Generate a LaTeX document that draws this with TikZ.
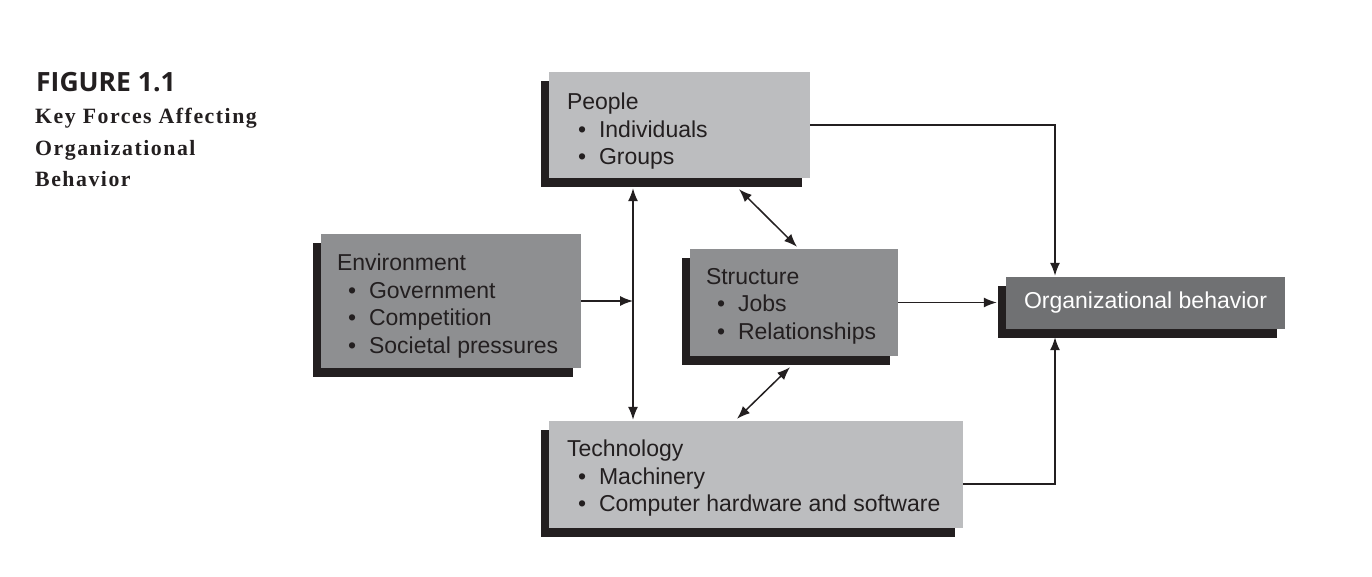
\documentclass[tikz,border=0pt]{standalone}
\usepackage{fontspec}
\setmainfont{Liberation Sans}
\newfontfamily\figfont{Open Sans}
\newfontfamily\capfont[LetterSpace=7]{Liberation Serif}
\usetikzlibrary{shadows,arrows.meta}
\definecolor{lightbox}{RGB}{188,189,191}
\definecolor{midbox}{RGB}{142,143,145}
\definecolor{darkbox}{RGB}{112,113,115}
\definecolor{ink}{RGB}{35,31,32}
\newcommand\itm[1]{\hspace*{11pt}\textbullet\hspace{13pt}#1}
\tikzset{
  forcebox/.style={draw=none, inner sep=0pt,
    drop shadow={shadow xshift=-8pt, shadow yshift=-9pt, fill=ink, opacity=1}},
  boxtext/.style={anchor=north west, inner sep=0pt, align=left, text=ink,
    font=\fontsize{23}{27.5}\selectfont},
  captext/.style={anchor=base west, inner sep=0pt, text=ink,
    font=\capfont\bfseries\fontsize{21.8}{31.5}\selectfont},
  arr/.style={draw=ink, line width=1.5pt, -{Latex[length=13pt,width=10pt]}},
  arrtwo/.style={draw=ink, line width=1.5pt, {Latex[length=13pt,width=10pt]}-{Latex[length=13pt,width=10pt]}}
}
\begin{document}
\begin{tikzpicture}[x=1pt,y=-1pt]
\useasboundingbox[fill=white] (0,0) rectangle (1372,577);
% caption
\node[anchor=base west, inner sep=0pt, text=ink, font=\figfont\bfseries\fontsize{26.5}{30}\selectfont] (fig) at (36,92) {FIGURE 1.1};
\node[captext] (cap1) at (35,124) {Key Forces Affecting};
\node[captext] (cap2) at (35,156) {Organizational};
\node[captext] (cap3) at (35,187) {Behavior};
% boxes
\node[forcebox, fill=lightbox, minimum width=261pt, minimum height=106pt] (people) at (679.5,125) {};
\node[boxtext] (peopletext) at ([shift={(18pt,-21pt)}]people.north west)
  {People\\\itm{Individuals}\\\itm{Groups}};
\node[forcebox, fill=midbox, minimum width=260pt, minimum height=134pt] (env) at (451,301) {};
\node[boxtext] (envtext) at ([shift={(16pt,-20pt)}]env.north west)
  {Environment\\\itm{Government}\\\itm{Competition}\\\itm{Societal pressures}};
\node[forcebox, fill=midbox, minimum width=208pt, minimum height=107pt] (struct) at (794,302.5) {};
\node[boxtext] (structtext) at ([shift={(16pt,-19pt)}]struct.north west)
  {Structure\\\itm{Jobs}\\\itm{Relationships}};
\node[forcebox, fill=lightbox, minimum width=414pt, minimum height=107pt] (tech) at (756,474.5) {};
\node[boxtext] (techtext) at ([shift={(18pt,-19pt)}]tech.north west)
  {Technology\\\itm{Machinery}\\\itm{Computer hardware and software}};
\node[forcebox, fill=darkbox, text=white, font=\fontsize{23}{27.5}\selectfont, minimum width=279pt, minimum height=52pt] (org) at (1145.5,303)
  {Organizational behavior};
% connectors
\coordinate (vx) at (633,0);
\coordinate (ox) at (1055,0);
\draw[arrtwo] ([yshift=-10pt]people.south -| vx) -- ([yshift=1pt]tech.north -| vx);
\draw[arr] (env.east) -- (env.east -| vx);
\draw[arrtwo] ([shift={(59.5pt,-11pt)}]people.south) -- ([shift={(3pt,2pt)}]struct.north);
\draw[arrtwo] ([shift={(-4pt,-11pt)}]struct.south) -- ([shift={(-19pt,2pt)}]tech.north);
\draw[arr] (struct.east) -- ([xshift=-9pt]org.west |- struct.east);
\draw[arr] (people.east) -| ([yshift=1pt]org.north -| ox);
\draw[arr] ([yshift=-9.5pt]tech.east) -| ([yshift=-8pt]org.south -| ox);
\end{tikzpicture}
\end{document}
